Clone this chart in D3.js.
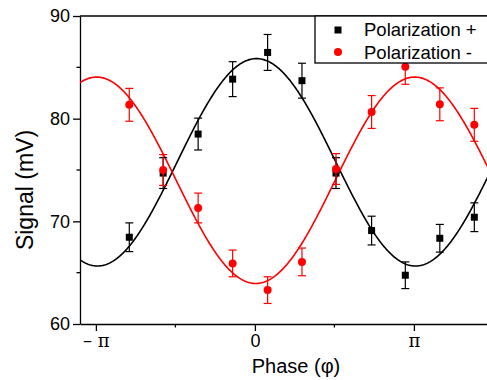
<!DOCTYPE html>
<html>
<head>
<meta charset="utf-8">
<script src="https://cdn.jsdelivr.net/npm/d3@7"></script>
<style>
  html, body { margin: 0; padding: 0; background: #fff; }
  svg { display: block; font-family: "Liberation Sans", Arial, sans-serif; }
</style>
</head>
<body>
<div id="chart"></div>
<script>
// phase in units of pi
const phase = [-0.79, -0.577, -0.357, -0.14, 0.08, 0.296, 0.51, 0.734, 0.946, 1.163, 1.38];
const plusSignal = [68.45, 74.7, 78.5, 83.85, 86.45, 83.7, 74.7, 69.1, 64.75, 68.35, 70.4];
const plusErr = [1.4, 1.5, 1.55, 1.7, 1.75, 1.7, 1.5, 1.4, 1.3, 1.35, 1.4];
const minusSignal = [81.35, 75.0, 71.3, 65.9, 63.3, 66.05, 75.1, 80.65, 85.05, 81.4, 79.4];
const minusErr = [1.6, 1.5, 1.45, 1.3, 1.3, 1.35, 1.5, 1.6, 1.7, 1.6, 1.6];

// cosine fits: offset + amp * cos(pi * (phase - centre))
const fitOffset = [75.75, 74.0];
const fitAmp = [10.1, -10.05];
const fitCentre = [0.01, 0.005];

const seriesNames = ["Polarization +", "Polarization -"];
const seriesColours = ["#000000", "#ff0000"];

const majorTicks = [-1, 0, 1];
const majorLabels = ["\u2013 \u03c0", "0", "\u03c0"];
const minorTicks = [-0.5, 0.5, 1.5];
const yTicks = [60, 70, 80, 90];
const yMinor = [65, 75, 85];

(function () {
  const W = 487, H = 380;
  const plotLeft = 80, plotTop = 16, plotBottom = 324;

  const x = d3.scaleLinear().domain([-1.1, 1.5]).range([plotLeft, plotLeft + 2.6 * 159]);
  const y = d3.scaleLinear().domain([60, 90]).range([plotBottom, plotTop]);
  const plotRight = x.range()[1];

  const svg = d3.select("#chart").append("svg")
    .attr("width", W).attr("height", H);

  svg.append("defs").append("clipPath").attr("id", "plotClip")
    .append("rect")
    .attr("x", plotLeft).attr("y", plotTop)
    .attr("width", plotRight - plotLeft).attr("height", plotBottom - plotTop);

  // top frame line
  svg.append("line")
    .attr("x1", plotLeft).attr("x2", plotRight)
    .attr("y1", plotTop).attr("y2", plotTop)
    .attr("stroke", "#000").attr("stroke-width", 1.3);

  // y axis
  const yAxis = svg.append("g")
    .attr("transform", `translate(${plotLeft},0)`)
    .call(d3.axisLeft(y).tickValues(yTicks).tickSize(7).tickPadding(3).tickSizeOuter(0));
  yAxis.select(".domain").attr("stroke-width", 1.3);
  yAxis.selectAll(".tick line").attr("stroke-width", 1.3);
  yAxis.selectAll("text").attr("font-size", 18).attr("font-family", "Liberation Sans, Arial, sans-serif").attr("fill", "#000");
  yAxis.selectAll(".minor").data(yMinor).join("line")
    .attr("class", "minor")
    .attr("x1", -3.5).attr("x2", 0)
    .attr("y1", d => y(d)).attr("y2", d => y(d))
    .attr("stroke", "#000").attr("stroke-width", 1.3);

  // x axis
  const xAxis = svg.append("g")
    .attr("transform", `translate(0,${plotBottom})`)
    .call(d3.axisBottom(x).tickValues(majorTicks)
      .tickFormat((d, i) => majorLabels[i])
      .tickSize(7).tickPadding(3).tickSizeOuter(0));
  xAxis.select(".domain").attr("stroke-width", 1.3);
  xAxis.selectAll(".tick line").attr("stroke-width", 1.3);
  xAxis.selectAll("text")
    .attr("font-size", 18)
    .attr("font-family", d => d === 0 ? "Liberation Sans, Arial, sans-serif" : "DejaVu Serif, Liberation Serif, serif")
    .attr("fill", "#000");
  xAxis.selectAll(".minor").data(minorTicks).join("line")
    .attr("class", "minor")
    .attr("x1", d => x(d)).attr("x2", d => x(d))
    .attr("y1", 0).attr("y2", 3.5)
    .attr("stroke", "#000").attr("stroke-width", 1.3);

  // axis titles
  svg.append("text")
    .attr("transform", "translate(33,190) rotate(-90)")
    .attr("text-anchor", "middle")
    .attr("font-size", 23)
    .text("Signal (mV)");

  svg.append("text")
    .attr("x", 296).attr("y", 373)
    .attr("text-anchor", "middle")
    .attr("font-size", 20)
    .text("Phase (\u03c6)");

  // fit curves
  const plot = svg.append("g").attr("clip-path", "url(#plotClip)");
  const grid = d3.range(-1.1, 1.505, 0.005);
  const line = d3.line().x(d => x(d[0])).y(d => y(d[1]));
  [0, 1].forEach(k => {
    const pts = grid.map(p => [p, fitOffset[k] + fitAmp[k] * Math.cos(Math.PI * (p - fitCentre[k]))]);
    plot.append("path")
      .attr("d", line(pts))
      .attr("fill", "none")
      .attr("stroke", seriesColours[k])
      .attr("stroke-width", 1.6);
  });

  // error bars + markers
  const series = [
    { vals: plusSignal, err: plusErr, colour: seriesColours[0], shape: "square" },
    { vals: minusSignal, err: minusErr, colour: seriesColours[1], shape: "circle" }
  ];

  series.forEach(s => {
    const data = phase.map((p, i) => ({ p, v: s.vals[i], e: s.err[i] }));
    const g = svg.append("g");
    const eb = g.selectAll("g.eb").data(data).join("g").attr("class", "eb");
    eb.append("line")
      .attr("x1", d => x(d.p)).attr("x2", d => x(d.p))
      .attr("y1", d => y(d.v - d.e)).attr("y2", d => y(d.v + d.e))
      .attr("stroke", s.colour).attr("stroke-width", 1.2);
    [-1, 1].forEach(sign => {
      eb.append("line")
        .attr("x1", d => x(d.p) - 4).attr("x2", d => x(d.p) + 4)
        .attr("y1", d => y(d.v + sign * d.e)).attr("y2", d => y(d.v + sign * d.e))
        .attr("stroke", s.colour).attr("stroke-width", 1.2);
    });
    if (s.shape === "square") {
      g.selectAll("rect.m").data(data).join("rect").attr("class", "m")
        .attr("x", d => x(d.p) - 3.5).attr("y", d => y(d.v) - 3.5)
        .attr("width", 7).attr("height", 7)
        .attr("fill", s.colour);
    } else {
      g.selectAll("circle.m").data(data).join("circle").attr("class", "m")
        .attr("cx", d => x(d.p)).attr("cy", d => y(d.v))
        .attr("r", 4)
        .attr("fill", s.colour);
    }
  });

  // legend
  const legend = svg.append("g");
  legend.append("rect")
    .attr("x", 315).attr("y", plotTop)
    .attr("width", 200).attr("height", 47)
    .attr("fill", "#fff").attr("stroke", "#000").attr("stroke-width", 1.3);
  legend.append("rect")
    .attr("x", 334.5).attr("y", 26.5).attr("width", 7).attr("height", 7)
    .attr("fill", seriesColours[0]);
  legend.append("circle")
    .attr("cx", 338).attr("cy", 52).attr("r", 4)
    .attr("fill", seriesColours[1]);
  seriesNames.forEach((name, i) => {
    legend.append("text")
      .attr("x", 364).attr("y", 36 + i * 22.5)
      .attr("font-size", 18.5)
      .text(name);
  });
})();
</script>
</body>
</html>
